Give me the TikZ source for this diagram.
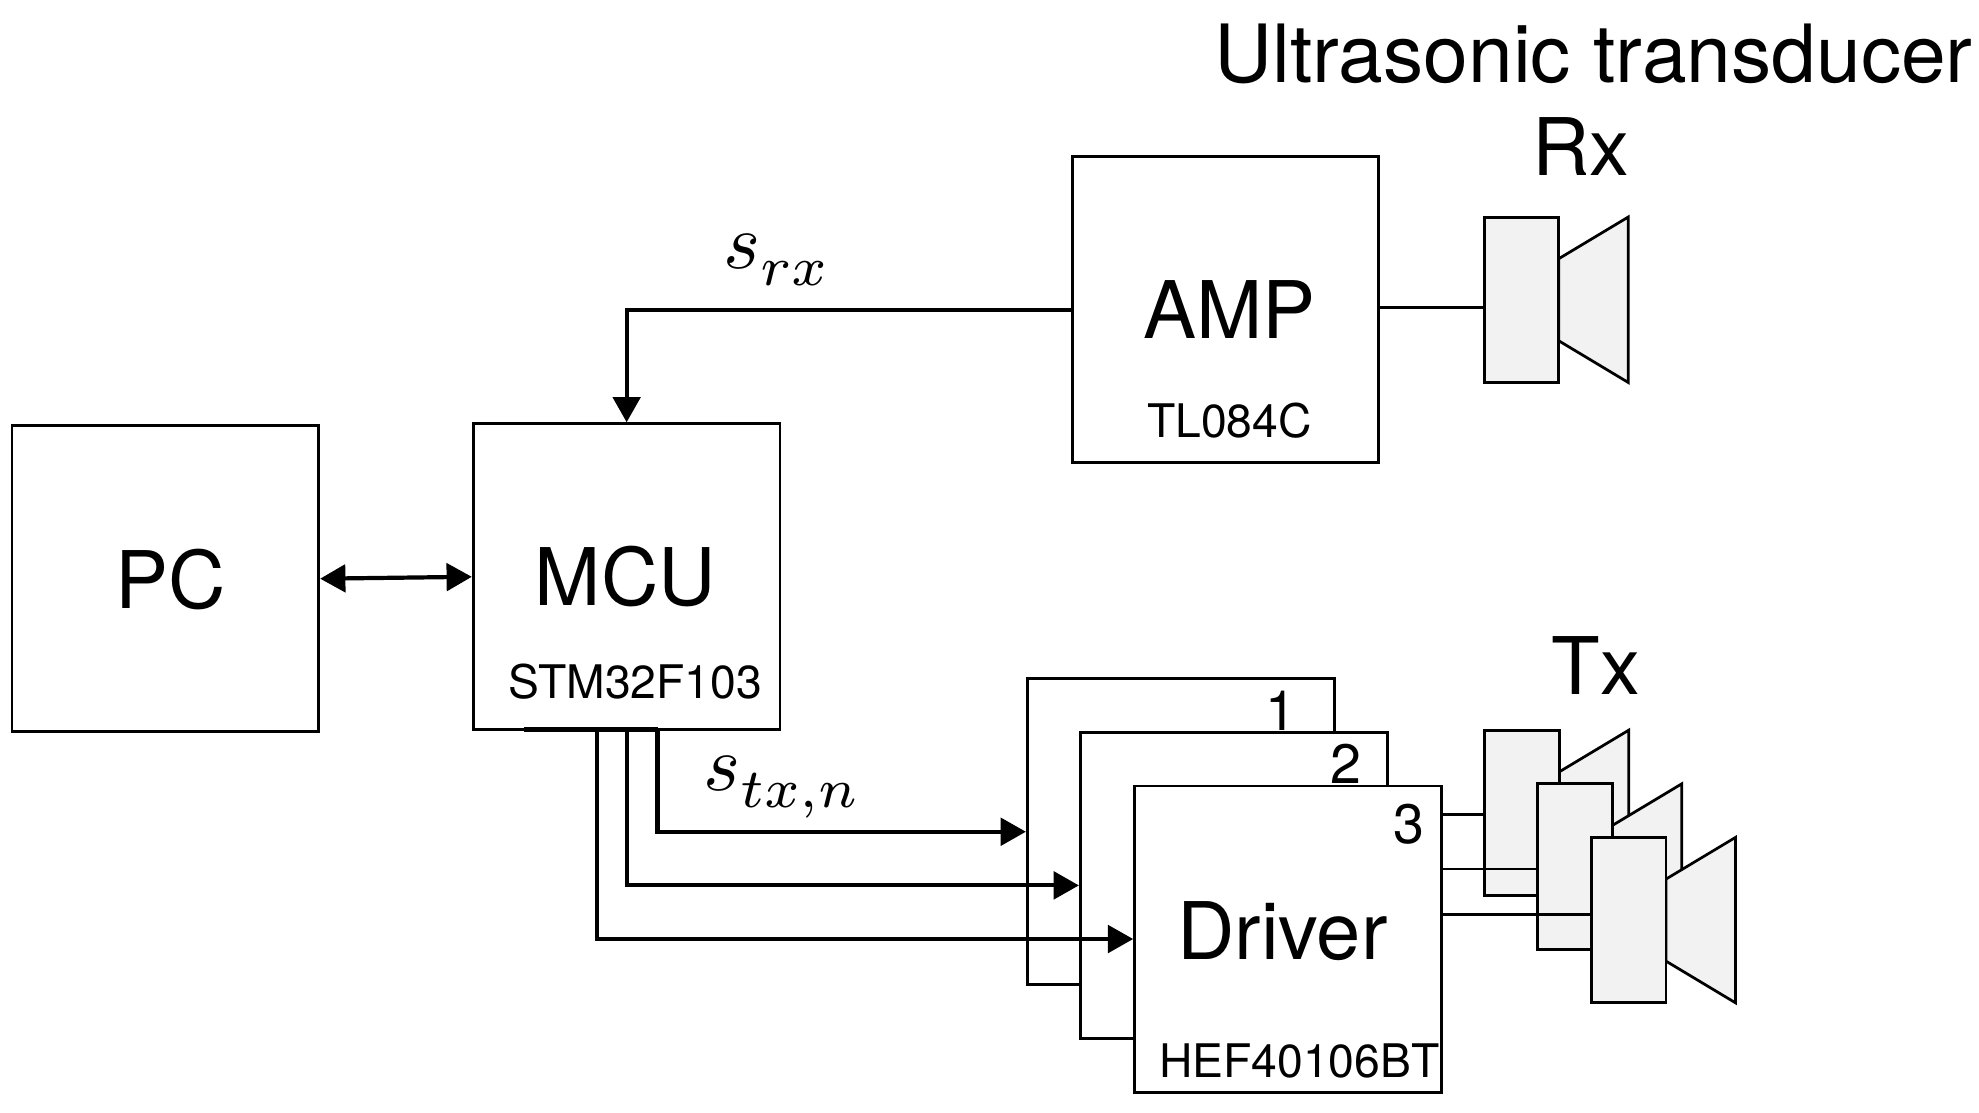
\documentclass[tikz,border=0pt]{standalone}
\usepackage{fontspec}
\setmainfont{TeX Gyre Heros}
\usetikzlibrary{arrows.meta}
\definecolor{conegray}{HTML}{F2F2F2}
\tikzset{
  x=0.6pt,y=-0.6pt,
  block/.style={draw=black,fill=white,line width=1.4pt,minimum width=145.8pt,minimum height=145.5pt,inner sep=0pt},
  bigtext/.style={inner sep=0pt,font=\fontsize{37.8}{40}\selectfont},
  hugetext/.style={inner sep=0pt,font=\fontsize{38.2}{40}\selectfont},
  smalltext/.style={inner sep=0pt,font=\fontsize{22}{24}\selectfont},
  digit/.style={inner sep=0pt,font=\fontsize{26.4}{28}\selectfont},
  mathlabel/.style={inner sep=0pt,scale=3.75},
  conn/.style={line width=2pt,draw=black},
  sig/.style={conn,-{Triangle[length=12pt,width=13pt]}},
  sigboth/.style={conn,{Triangle[length=12pt,width=13pt]}-{Triangle[length=12pt,width=13pt]}},
  thin wire/.style={line width=1.4pt,draw=black},
  transrect/.style={draw=black,fill=conegray,line width=1.4pt,minimum width=35.4pt,minimum height=78.6pt,inner sep=0pt},
  cone/.style={draw=black,fill=conegray,line width=1.3pt,line join=miter},
}
\newcommand{\speaker}[3]{%
  \draw[cone] (#2+29.5,#3-32.5) -- (#2+84.5,#3-65.5) -- (#2+84.5,#3+65.5) -- (#2+29.5,#3+32.5) -- cycle;
  \node[transrect] (#1) at (#2,#3) {};
}
\newcommand{\lowsub}[1]{\raisebox{-0.12ex}{$\scriptstyle #1$}}
\begin{document}
\begin{tikzpicture}
\useasboundingbox (0,0) rectangle (1568,881.7);
\fill[white] (0,0) rectangle (1568,881.7);

% main blocks
\node[block] (pc) at (131,458.5) {};
\node[block] (mcu) at (496.5,457) {};
\node[block] (amp) at (971,245.5) {};
\node[bigtext] (pctext) at (135.5,459) {PC};
\node[bigtext] (mcutext) at (495.5,456.5) {MCU};
\node[smalltext] (stm) at (503.5,540) {STM32F103};
\node[bigtext] (amptext) at (974,245.5) {AMP};
\node[smalltext] (tl) at (974,333) {TL084C};

% driver stack
\node[block] (d1) at (935.5,659) {};
\node[digit] (n1) at (1015,563) {1};
\node[block] (d2) at (977.5,701.5) {};
\node[digit] (n2) at (1066,605) {2};
\node[block] (d3) at (1020.5,744) {};
\node[digit] (n3) at (1116,653) {3};
\node[bigtext] (drv) at (1016,738) {Driver};
\node[smalltext] (hef) at (1029.5,841) {HEF40106BT};

% titles
\node[hugetext] (ut) at (1262.5,43) {Ultrasonic transducer};
\node[bigtext] (rxt) at (1252.5,116) {Rx};
\node[bigtext] (txt) at (1264.5,527) {Tx};

% transducers
\speaker{rx}{1205.5}{237.5}
\coordinate (rxin) at (rx.west |- 0,243.5);
\draw[thin wire] (amp.east |- rxin) -- (rxin);

\speaker{tx1}{1206}{644}
\coordinate (tx1in) at (tx1.west |- 0,645.5);
\draw[thin wire] (d3.east |- tx1in) -- (tx1in);
\speaker{tx2}{1248}{686.5}
\coordinate (tx2in) at (tx2.west |- 0,688.5);
\draw[thin wire] (d3.east |- tx2in) -- (tx2in);
\speaker{tx3}{1290.5}{729}
\coordinate (tx3in) at (tx3.west |- 0,724.5);
\draw[thin wire] (d3.east |- tx3in) -- (tx3in);

% connectors
\draw[sigboth] (pc.east) -- (mcu.west);
\draw[sig] (amp.west) -| (mcu.north);
\coordinate (bs) at (415,578);
\coordinate (t1) at (521,578);
\coordinate (t3) at (473,578);
\draw[conn] (bs) -- (t1);
\draw[sig] (t1) |- (d1.west);
\draw[sig] (mcu.south) |- (d2.west);
\draw[sig] (t3) |- (d3.west);

% signal labels
\node[mathlabel] (srx) at (616,206) {$s_{\lowsub{rx}}$};
\node[mathlabel] (stx) at (620,624) {$s_{\lowsub{tx,n}}$};
\end{tikzpicture}
\end{document}
